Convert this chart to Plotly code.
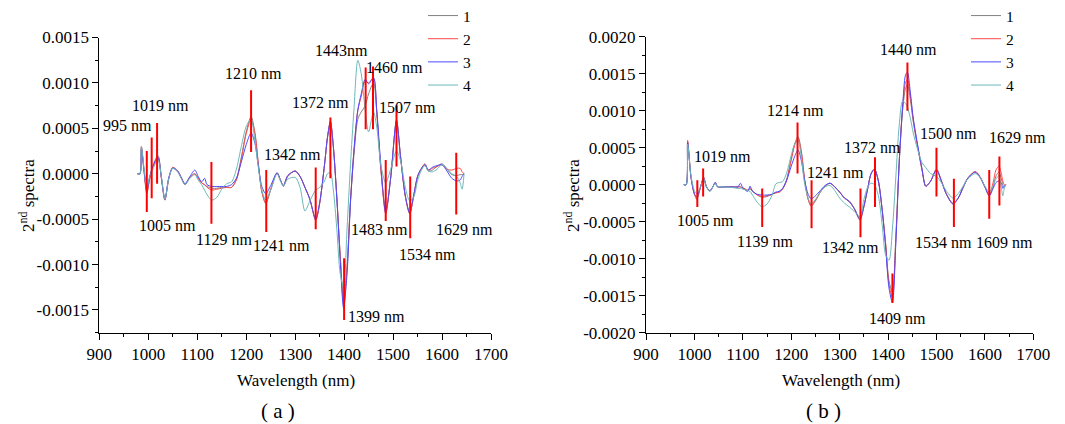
import plotly.graph_objects as go

# ---------------- data: panel (a) ----------------
wl_a = [978, 983, 986, 991, 997, 1003, 1010, 1020, 1027, 1034, 1042, 1050, 1060, 1068, 1075, 1085,
        1095, 1102, 1109, 1115, 1120, 1130, 1140, 1150, 1160, 1170, 1180, 1190, 1200, 1210, 1218,
        1225, 1232, 1240, 1250, 1263, 1270, 1276, 1285, 1300, 1310, 1320, 1330, 1342, 1350, 1360,
        1366, 1372, 1378, 1385, 1392, 1399, 1406, 1413, 1420, 1428, 1435, 1443, 1450, 1460, 1467,
        1475, 1485, 1495, 1507, 1515, 1525, 1534, 1542, 1550, 1557, 1565, 1572, 1580, 1590, 1600,
        1610, 1620, 1630, 1637, 1641, 1645]
a_s1 = [0, 0, 2.9e-4, 0.5e-4, -2.0e-4, -0.5e-4, 1.0e-4, 2.0e-4, -0.5e-4, -2.9e-4, -0.5e-4, 0.7e-4,
        0.3e-4, -0.5e-4, -1.2e-4, -0.4e-4, 0.0, -0.5e-4, -1.0e-4, -1.2e-4, -1.4e-4, -1.6e-4, -1.6e-4,
        -1.5e-4, -1.5e-4, -1.5e-4, -0.6e-4, 1.8e-4, 4.6e-4, 6.3e-4, 4.5e-4, 1.0e-4, -2.0e-4, -3.3e-4,
        -1.8e-4, 0.1e-4, -0.7e-4, -1.4e-4, -0.3e-4, 0.3e-4, -0.3e-4, -1.5e-4, -2.8e-4, -5.1e-4,
        -3.3e-4, 1.0e-4, 4.0e-4, 5.7e-4, 3.0e-4, -2.5e-4, -9.0e-4, -13.9e-4, -10.0e-4, -3.0e-4,
        2.0e-4, 6.0e-4, 6.8e-4, 7.5e-4, 8.8e-4, 10.0e-4, 6.5e-4, 0.5e-4, -4.0e-4, -0.5e-4, 5.9e-4,
        2.0e-4, -2.5e-4, -4.4e-4, -2.5e-4, -0.3e-4, 0.5e-4, 1.0e-4, 0.3e-4, 0.4e-4, 0.8e-4, 1.1e-4,
        0.5e-4, -0.1e-4, -0.2e-4, -0.1e-4, -0.1e-4, 0.0]
a_s2 = [0, 0, 3.0e-4, 0.5e-4, -2.2e-4, -0.6e-4, 0.8e-4, 1.7e-4, -0.6e-4, -2.9e-4, -0.5e-4, 0.7e-4,
        0.3e-4, -0.5e-4, -1.2e-4, -0.4e-4, 0.0, -0.5e-4, -1.0e-4, -1.2e-4, -1.5e-4, -1.8e-4, -1.7e-4,
        -1.6e-4, -1.5e-4, -1.5e-4, -0.7e-4, 1.6e-4, 4.4e-4, 6.0e-4, 4.3e-4, 1.0e-4, -2.0e-4, -3.2e-4,
        -1.7e-4, 0.1e-4, -0.7e-4, -1.3e-4, -0.2e-4, 0.3e-4, -0.3e-4, -1.5e-4, -2.8e-4, -5.1e-4,
        -3.3e-4, 1.0e-4, 4.0e-4, 5.8e-4, 3.0e-4, -2.5e-4, -9.0e-4, -14.5e-4, -10.5e-4, -3.0e-4,
        2.5e-4, 7.0e-4, 8.5e-4, 10.2e-4, 10.0e-4, 10.5e-4, 6.5e-4, 0.5e-4, -4.4e-4, -0.5e-4, 5.8e-4,
        2.0e-4, -2.5e-4, -4.4e-4, -2.4e-4, -0.3e-4, 0.5e-4, 1.1e-4, 0.4e-4, 0.6e-4, 0.8e-4, 1.0e-4,
        0.5e-4, 0.4e-4, 0.6e-4, 0.6e-4, 0.2e-4, 0.0]
a_s3 = [0, 0, 2.8e-4, 0.5e-4, -1.8e-4, -0.3e-4, 0.9e-4, 1.8e-4, -0.5e-4, -2.8e-4, -0.4e-4, 0.6e-4,
        0.3e-4, -0.5e-4, -1.1e-4, -0.3e-4, 0.4e-4, -0.3e-4, -0.9e-4, -0.5e-4, -1.2e-4, -1.4e-4, -1.4e-4,
        -1.4e-4, -1.4e-4, -1.2e-4, -0.5e-4, 1.3e-4, 3.2e-4, 4.5e-4, 3.3e-4, 0.8e-4, -1.4e-4, -2.2e-4,
        -1.3e-4, 0.1e-4, -0.7e-4, -1.3e-4, -0.2e-4, 0.3e-4, -0.3e-4, -1.5e-4, -2.8e-4, -5.0e-4,
        -3.2e-4, 1.0e-4, 4.0e-4, 5.7e-4, 3.0e-4, -2.6e-4, -9.5e-4, -14.8e-4, -11.0e-4, -3.2e-4,
        2.5e-4, 7.0e-4, 8.8e-4, 10.4e-4, 9.9e-4, 10.6e-4, 6.8e-4, 1.0e-4, -4.3e-4, -0.5e-4, 5.9e-4,
        2.0e-4, -2.4e-4, -4.3e-4, -2.4e-4, -0.3e-4, 0.5e-4, 1.0e-4, 0.4e-4, 0.7e-4, 0.9e-4, 1.0e-4,
        0.3e-4, -0.5e-4, -0.8e-4, -0.7e-4, -0.3e-4, 0.0]
a_s4 = [0, 0, 3.0e-4, 0.8e-4, -1.5e-4, -0.3e-4, 0.6e-4, 1.5e-4, -0.4e-4, -2.8e-4, -0.5e-4, 0.6e-4,
        0.2e-4, -0.6e-4, -1.2e-4, -0.5e-4, -0.1e-4, -0.7e-4, -1.2e-4, -1.8e-4, -2.3e-4, -2.9e-4,
        -2.6e-4, -1.7e-4, -1.1e-4, -0.9e-4, 0.5e-4, 3.0e-4, 5.2e-4, 6.0e-4, 3.5e-4, 0.6e-4, -1.8e-4,
        -2.9e-4, -1.8e-4, 0.0, -0.8e-4, -1.3e-4, -0.6e-4, -0.4e-4, -1.5e-4, -4.1e-4, -3.0e-4,
        -1.8e-4, -1.5e-4, -0.8e-4, 0.0, 0.1e-4, -1.8e-4, -6.0e-4, -11.0e-4, -12.5e-4, -6.0e-4,
        1.0e-4, 7.0e-4, 12.5e-4, 11.0e-4, 7.0e-4, 4.6e-4, 6.8e-4, 5.0e-4, 1.0e-4, -1.0e-4, 0.5e-4,
        2.5e-4, 1.5e-4, -1.5e-4, -3.0e-4, -2.6e-4, -0.8e-4, 0.3e-4, 0.9e-4, 0.3e-4, 0.2e-4, 0.5e-4,
        1.0e-4, 0.6e-4, 0.0, -0.3e-4, -1.0e-4, -1.7e-4, 0.0]

# marked bands in panel (a): wavelength, top and bottom of red bar
mark_a_wl = [997, 1007, 1018, 1129, 1210, 1241, 1342, 1372, 1400, 1444, 1459, 1485, 1507, 1535, 1629]
mark_a_top = [2.5e-4, 4.0e-4, 5.6e-4, 1.3e-4, 9.2e-4, 0.4e-4, 0.7e-4, 6.2e-4, -9.3e-4, 11.7e-4,
              11.8e-4, 1.5e-4, 7.5e-4, -0.3e-4, 2.3e-4]
mark_a_bot = [-4.2e-4, -2.7e-4, -1.1e-4, -5.5e-4, 2.4e-4, -6.4e-4, -6.1e-4, -0.5e-4, -16.1e-4,
              4.9e-4, 4.9e-4, -5.2e-4, 0.8e-4, -7.1e-4, -4.5e-4]
label_a_text = ["995 nm", "1019 nm", "1005 nm", "1129 nm", "1241 nm", "1210 nm", "1342 nm",
                "1372 nm", "1443nm", "1460 nm", "1507 nm", "1483 nm", "1534 nm", "1629 nm", "1399 nm"]
label_a_x = [957.6, 1024.9, 1040.2, 1154.5, 1271.8, 1215.7, 1295.3, 1351.4, 1395.3, 1503.5,
             1530.0, 1472.9, 1570.8, 1646.3, 1466.7]
label_a_y = [5.31e-4, 7.51e-4, -5.68e-4, -7.22e-4, -7.88e-4, 11.01e-4, 2.12e-4, 7.87e-4, 13.55e-4,
             11.72e-4, 7.32e-4, -6.12e-4, -8.87e-4, -6.12e-4, -15.68e-4]

# ---------------- data: panel (b) ----------------
wl_b = [978, 983, 986, 993, 1000, 1005, 1012, 1019, 1025, 1032, 1038, 1043, 1048, 1060, 1080, 1090,
        1095, 1100, 1110, 1115, 1120, 1130, 1140, 1150, 1160, 1168, 1175, 1182, 1190, 1200, 1207,
        1214, 1221, 1228, 1235, 1241, 1250, 1260, 1270, 1280, 1290, 1300, 1310, 1320, 1330, 1342,
        1350, 1358, 1365, 1372, 1380, 1388, 1395, 1402, 1409, 1416, 1423, 1430, 1436, 1440, 1446,
        1452, 1460, 1470, 1478, 1488, 1500, 1510, 1520, 1534, 1545, 1555, 1565, 1580, 1590, 1600,
        1609, 1617, 1623, 1629, 1634, 1637, 1640, 1643]
b_s1 = [0, 0, 5.7e-4, 1.0e-4, -1.3e-4, -2.0e-4, -0.5e-4, 1.0e-4, -0.3e-4, -0.9e-4, -0.3e-4, 0.3e-4,
        -0.3e-4, -0.3e-4, -0.3e-4, -0.3e-4, -0.3e-4, -0.5e-4, -0.8e-4, -0.6e-4, -0.9e-4, -1.4e-4,
        -1.7e-4, -1.6e-4, -1.3e-4, -1.1e-4, -1.0e-4, -0.6e-4, 0.6e-4, 3.5e-4, 5.5e-4, 6.5e-4,
        4.5e-4, 0.5e-4, -2.0e-4, -2.9e-4, -2.2e-4, -1.0e-4, -0.2e-4, 0.2e-4, -0.3e-4, -1.0e-4,
        -1.8e-4, -2.2e-4, -3.2e-4, -4.8e-4, -3.0e-4, -0.5e-4, 1.5e-4, 2.1e-4, 0.5e-4, -3.5e-4,
        -8.0e-4, -13.0e-4, -14.5e-4, -7.0e-4, 3.0e-4, 10.0e-4, 13.0e-4, 13.5e-4, 11.5e-4, 8.5e-4,
        5.5e-4, 2.0e-4, -0.2e-4, 0.5e-4, 2.0e-4, 0.5e-4, -1.2e-4, -2.6e-4, -1.8e-4, -0.3e-4, 0.9e-4,
        1.7e-4, 1.0e-4, -0.3e-4, -1.5e-4, -0.3e-4, 1.2e-4, 1.7e-4, 0.8e-4, 0.0, -0.3e-4, 0.0]
b_s2 = [0, 0, 6.0e-4, 1.0e-4, -1.3e-4, -1.8e-4, -0.5e-4, 1.0e-4, -0.3e-4, -0.8e-4, -0.3e-4, 0.3e-4,
        -0.3e-4, -0.3e-4, -0.3e-4, -0.3e-4, -0.3e-4, -0.4e-4, -0.7e-4, -0.5e-4, -0.8e-4, -1.4e-4,
        -1.6e-4, -1.5e-4, -1.3e-4, -1.1e-4, -1.0e-4, -0.6e-4, 0.5e-4, 3.3e-4, 5.3e-4, 6.2e-4,
        4.3e-4, 0.5e-4, -2.0e-4, -2.8e-4, -2.1e-4, -1.0e-4, -0.2e-4, 0.2e-4, -0.3e-4, -1.0e-4,
        -1.8e-4, -2.3e-4, -3.2e-4, -4.7e-4, -3.0e-4, -0.5e-4, 1.5e-4, 2.1e-4, 0.5e-4, -3.5e-4,
        -8.0e-4, -13.5e-4, -15.2e-4, -7.5e-4, 3.0e-4, 10.5e-4, 13.8e-4, 14.2e-4, 12.0e-4, 8.8e-4,
        5.6e-4, 2.1e-4, -0.2e-4, 0.5e-4, 2.1e-4, 0.6e-4, -1.2e-4, -2.5e-4, -1.8e-4, -0.4e-4, 0.9e-4,
        1.8e-4, 1.1e-4, -0.3e-4, -1.4e-4, 0.3e-4, 2.0e-4, 2.5e-4, 1.5e-4, 0.5e-4, 0.0, 0.0]
b_s3 = [0, 0, 5.7e-4, 1.0e-4, -1.2e-4, -1.6e-4, -0.4e-4, 0.9e-4, -0.3e-4, -0.8e-4, -0.3e-4, 0.3e-4,
        -0.3e-4, -0.3e-4, -0.3e-4, -0.3e-4, 0.2e-4, -0.4e-4, -0.9e-4, -0.2e-4, -0.9e-4, -1.3e-4,
        -1.4e-4, -1.4e-4, -1.3e-4, -1.0e-4, -0.9e-4, -0.5e-4, 0.5e-4, 2.5e-4, 3.8e-4, 4.7e-4,
        3.2e-4, 0.5e-4, -1.3e-4, -1.9e-4, -1.5e-4, -0.8e-4, -0.1e-4, 0.2e-4, -0.3e-4, -1.0e-4,
        -1.8e-4, -2.3e-4, -3.2e-4, -4.6e-4, -2.9e-4, -0.5e-4, 1.5e-4, 2.1e-4, 0.5e-4, -3.5e-4,
        -8.5e-4, -14.0e-4, -15.9e-4, -8.0e-4, 3.0e-4, 10.5e-4, 14.8e-4, 15.2e-4, 12.5e-4, 9.0e-4,
        5.8e-4, 2.2e-4, -0.2e-4, 0.5e-4, 2.0e-4, 0.5e-4, -1.2e-4, -2.6e-4, -1.8e-4, -0.4e-4, 0.9e-4,
        1.7e-4, 1.0e-4, -0.3e-4, -1.5e-4, -0.5e-4, 0.3e-4, 0.5e-4, 0.2e-4, -0.5e-4, -0.2e-4, 0.0]
b_s4 = [0, 0, 5.5e-4, 1.2e-4, -0.8e-4, -1.2e-4, -0.4e-4, 0.8e-4, -0.3e-4, -0.9e-4, -0.3e-4, 0.2e-4,
        -0.3e-4, -0.3e-4, -0.4e-4, -0.5e-4, -0.5e-4, -0.6e-4, -0.8e-4, -0.9e-4, -1.4e-4, -2.4e-4,
        -3.0e-4, -2.6e-4, -1.5e-4, 0.1e-4, 0.3e-4, 0.4e-4, 1.5e-4, 4.0e-4, 5.5e-4, 6.0e-4,
        3.5e-4, 0.0, -1.8e-4, -2.6e-4, -2.0e-4, -1.0e-4, -0.3e-4, -0.1e-4, -0.8e-4, -1.8e-4,
        -2.5e-4, -3.0e-4, -3.6e-4, -4.3e-4, -2.0e-4, -0.3e-4, 0.2e-4, 0.0, -1.5e-4, -5.5e-4,
        -9.5e-4, -10.2e-4, -6.0e-4, 1.0e-4, 8.0e-4, 11.3e-4, 11.0e-4, 10.5e-4, 9.0e-4, 7.0e-4,
        5.0e-4, 3.0e-4, 2.3e-4, 1.5e-4, 1.1e-4, 0.3e-4, -0.8e-4, -1.8e-4, -1.2e-4, -0.2e-4, 0.8e-4,
        1.5e-4, 1.0e-4, -0.2e-4, -1.0e-4, -0.1e-4, 0.8e-4, 1.2e-4, -0.5e-4, -1.5e-4, -0.5e-4, 0.0]

mark_b_wl = [1006, 1018, 1140, 1213, 1242, 1343, 1373, 1409, 1440, 1500, 1536, 1609, 1630]
mark_b_top = [0.6e-4, 2.2e-4, -0.5e-4, 8.4e-4, 0.6e-4, -0.5e-4, 3.7e-4, -12.0e-4, 16.5e-4, 5.0e-4,
              0.8e-4, 2.0e-4, 3.8e-4]
mark_b_bot = [-3.0e-4, -1.6e-4, -5.7e-4, 1.5e-4, -5.9e-4, -7.1e-4, -3.0e-4, -16.0e-4, 10.0e-4,
              -1.6e-4, -5.7e-4, -4.6e-4, -2.8e-4]
label_b_text = ["1019 nm", "1005 nm", "1139 nm", "1214 nm", "1241 nm", "1342 nm", "1372 nm",
                "1409 nm", "1440 nm", "1500 nm", "1629 nm", "1534 nm", "1609 nm"]
label_b_x = [1057.4, 1022.9, 1145.1, 1209.4, 1291.4, 1322.3, 1368.4, 1419.4, 1442.5, 1525.2,
             1667.9, 1515.5, 1641.4]
label_b_y = [3.86e-4, -4.82e-4, -7.62e-4, 10.04e-4, 1.62e-4, -8.51e-4, 5.0e-4, -18.1e-4, 18.24e-4,
             6.89e-4, 6.43e-4, -7.75e-4, -7.75e-4]

series_names = ["1", "2", "3", "4"]
x_ticks = [900, 1000, 1100, 1200, 1300, 1400, 1500, 1600, 1700]
y_ticks_a = [-0.0015, -0.001, -0.0005, 0.0, 0.0005, 0.001, 0.0015]
y_labels_a = ["-0.0015", "-0.0010", "-0.0005", "0.0000", "0.0005", "0.0010", "0.0015"]
y_ticks_b = [-0.002, -0.0015, -0.001, -0.0005, 0.0, 0.0005, 0.001, 0.0015, 0.002]
y_labels_b = ["-0.0020", "-0.0015", "-0.0010", "-0.0005", "0.0000", "0.0005", "0.0010", "0.0015", "0.0020"]

# ---------------- styling ----------------
FONT = "Liberation Serif"
colors = ["#808080", "#ff4a4a", "#4a4aff", "#6cb8b8"]
W, H = 1065, 424

fig = go.Figure()

def add_panel(wl, series, xaxis, yaxis, legend):
    for name, ys, c in zip(series_names, series, colors):
        fig.add_trace(go.Scatter(x=wl, y=ys, mode="lines", name=name,
                                 line=dict(color=c, width=1, shape="spline", smoothing=0.8),
                                 xaxis=xaxis, yaxis=yaxis, legend=legend))

def add_marks(mwl, top, bot, xaxis, yaxis):
    xs, ys = [], []
    for w, t, b in zip(mwl, top, bot):
        xs += [w, w, None]
        ys += [t, b, None]
    fig.add_trace(go.Scatter(x=xs, y=ys, mode="lines", showlegend=False, hoverinfo="skip",
                             line=dict(color="#ff0000", width=2), xaxis=xaxis, yaxis=yaxis))

add_panel(wl_a, [a_s1, a_s2, a_s3, a_s4], "x", "y", "legend")
add_marks(mark_a_wl, mark_a_top, mark_a_bot, "x", "y")
add_panel(wl_b, [b_s1, b_s2, b_s3, b_s4], "x2", "y2", "legend2")
add_marks(mark_b_wl, mark_b_top, mark_b_bot, "x2", "y2")

axis_common = dict(showline=True, linecolor="black", linewidth=1, showgrid=False, zeroline=False,
                   ticks="outside", ticklen=6, tickwidth=1, tickcolor="black", automargin=False,
                   tickfont=dict(family=FONT, size=17, color="black"), mirror=False)

ax_a = [99.3, 491.0]
ax_b = [646.0, 1033.3]
bottom_px = 332.7

fig.update_layout(
    template="none",
    width=W, height=H, margin=dict(l=0, r=0, t=0, b=0, pad=0, autoexpand=False),
    paper_bgcolor="white", plot_bgcolor="white",
    font=dict(family=FONT, color="black"),
    showlegend=True,
    xaxis=dict(domain=[ax_a[0] / W, ax_a[1] / W], range=[900, 1700], anchor="y",
               tickvals=x_ticks, minor=dict(dtick=50, tick0=900, ticks="outside", ticklen=3,
                                            tickcolor="black"), **axis_common),
    yaxis=dict(domain=[1 - bottom_px / H, 1 - 37.5 / H], range=[-0.00175, 0.0015], anchor="x",
               tickvals=y_ticks_a, ticktext=y_labels_a,
               minor=dict(dtick=0.00025, tick0=0, ticks="outside", ticklen=3, tickcolor="black"),
               **axis_common),
    xaxis2=dict(domain=[ax_b[0] / W, ax_b[1] / W], range=[900, 1700], anchor="y2",
                tickvals=x_ticks, minor=dict(dtick=50, tick0=900, ticks="outside", ticklen=3,
                                             tickcolor="black"), **axis_common),
    yaxis2=dict(domain=[1 - bottom_px / H, 1 - 36.7 / H], range=[-0.002, 0.002], anchor="x2",
                tickvals=y_ticks_b, ticktext=y_labels_b,
                minor=dict(dtick=0.00025, tick0=0, ticks="outside", ticklen=3, tickcolor="black"),
                **axis_common),
    legend=dict(x=423 / W, y=1 + 1 / H, xanchor="left", yanchor="top", bgcolor="rgba(0,0,0,0)",
                font=dict(family=FONT, size=15.5, color="black"), tracegroupgap=0, borderwidth=0),
    legend2=dict(x=966 / W, y=1 + 1 / H, xanchor="left", yanchor="top", bgcolor="rgba(0,0,0,0)",
                 font=dict(family=FONT, size=15.5, color="black"), tracegroupgap=0, borderwidth=0),
)

annots = []
for t, x, y in zip(label_a_text, label_a_x, label_a_y):
    annots.append(dict(text=t, x=x, y=y, xref="x", yref="y", showarrow=False,
                       font=dict(family=FONT, size=16, color="black")))
for t, x, y in zip(label_b_text, label_b_x, label_b_y):
    annots.append(dict(text=t, x=x, y=y, xref="x2", yref="y2", showarrow=False,
                       font=dict(family=FONT, size=16, color="black")))

titles = [
    ("Wavelength (nm)", 295.5, 380, 0, 17),
    ("Wavelength (nm)", 840.5, 380, 0, 17),
    ("( a )", 278, 411, 0, 21),
    ("( b )", 823, 411, 0, 21),
    ("2<sup>nd</sup> spectra", 27, 196, -90, 17),
    ("2<sup>nd</sup> spectra", 572, 196, -90, 17),
]
for t, px, py, ang, sz in titles:
    annots.append(dict(text=t, x=px / W, y=1 - py / H, xref="paper", yref="paper", showarrow=False,
                       textangle=ang, xanchor="center", yanchor="middle",
                       font=dict(family=FONT, size=sz, color="black")))
fig.update_layout(annotations=annots)

fig.write_html("out.html", config={"displayModeBar": False},
               post_script="document.body.style.margin='0px';document.body.style.overflow='hidden';")
